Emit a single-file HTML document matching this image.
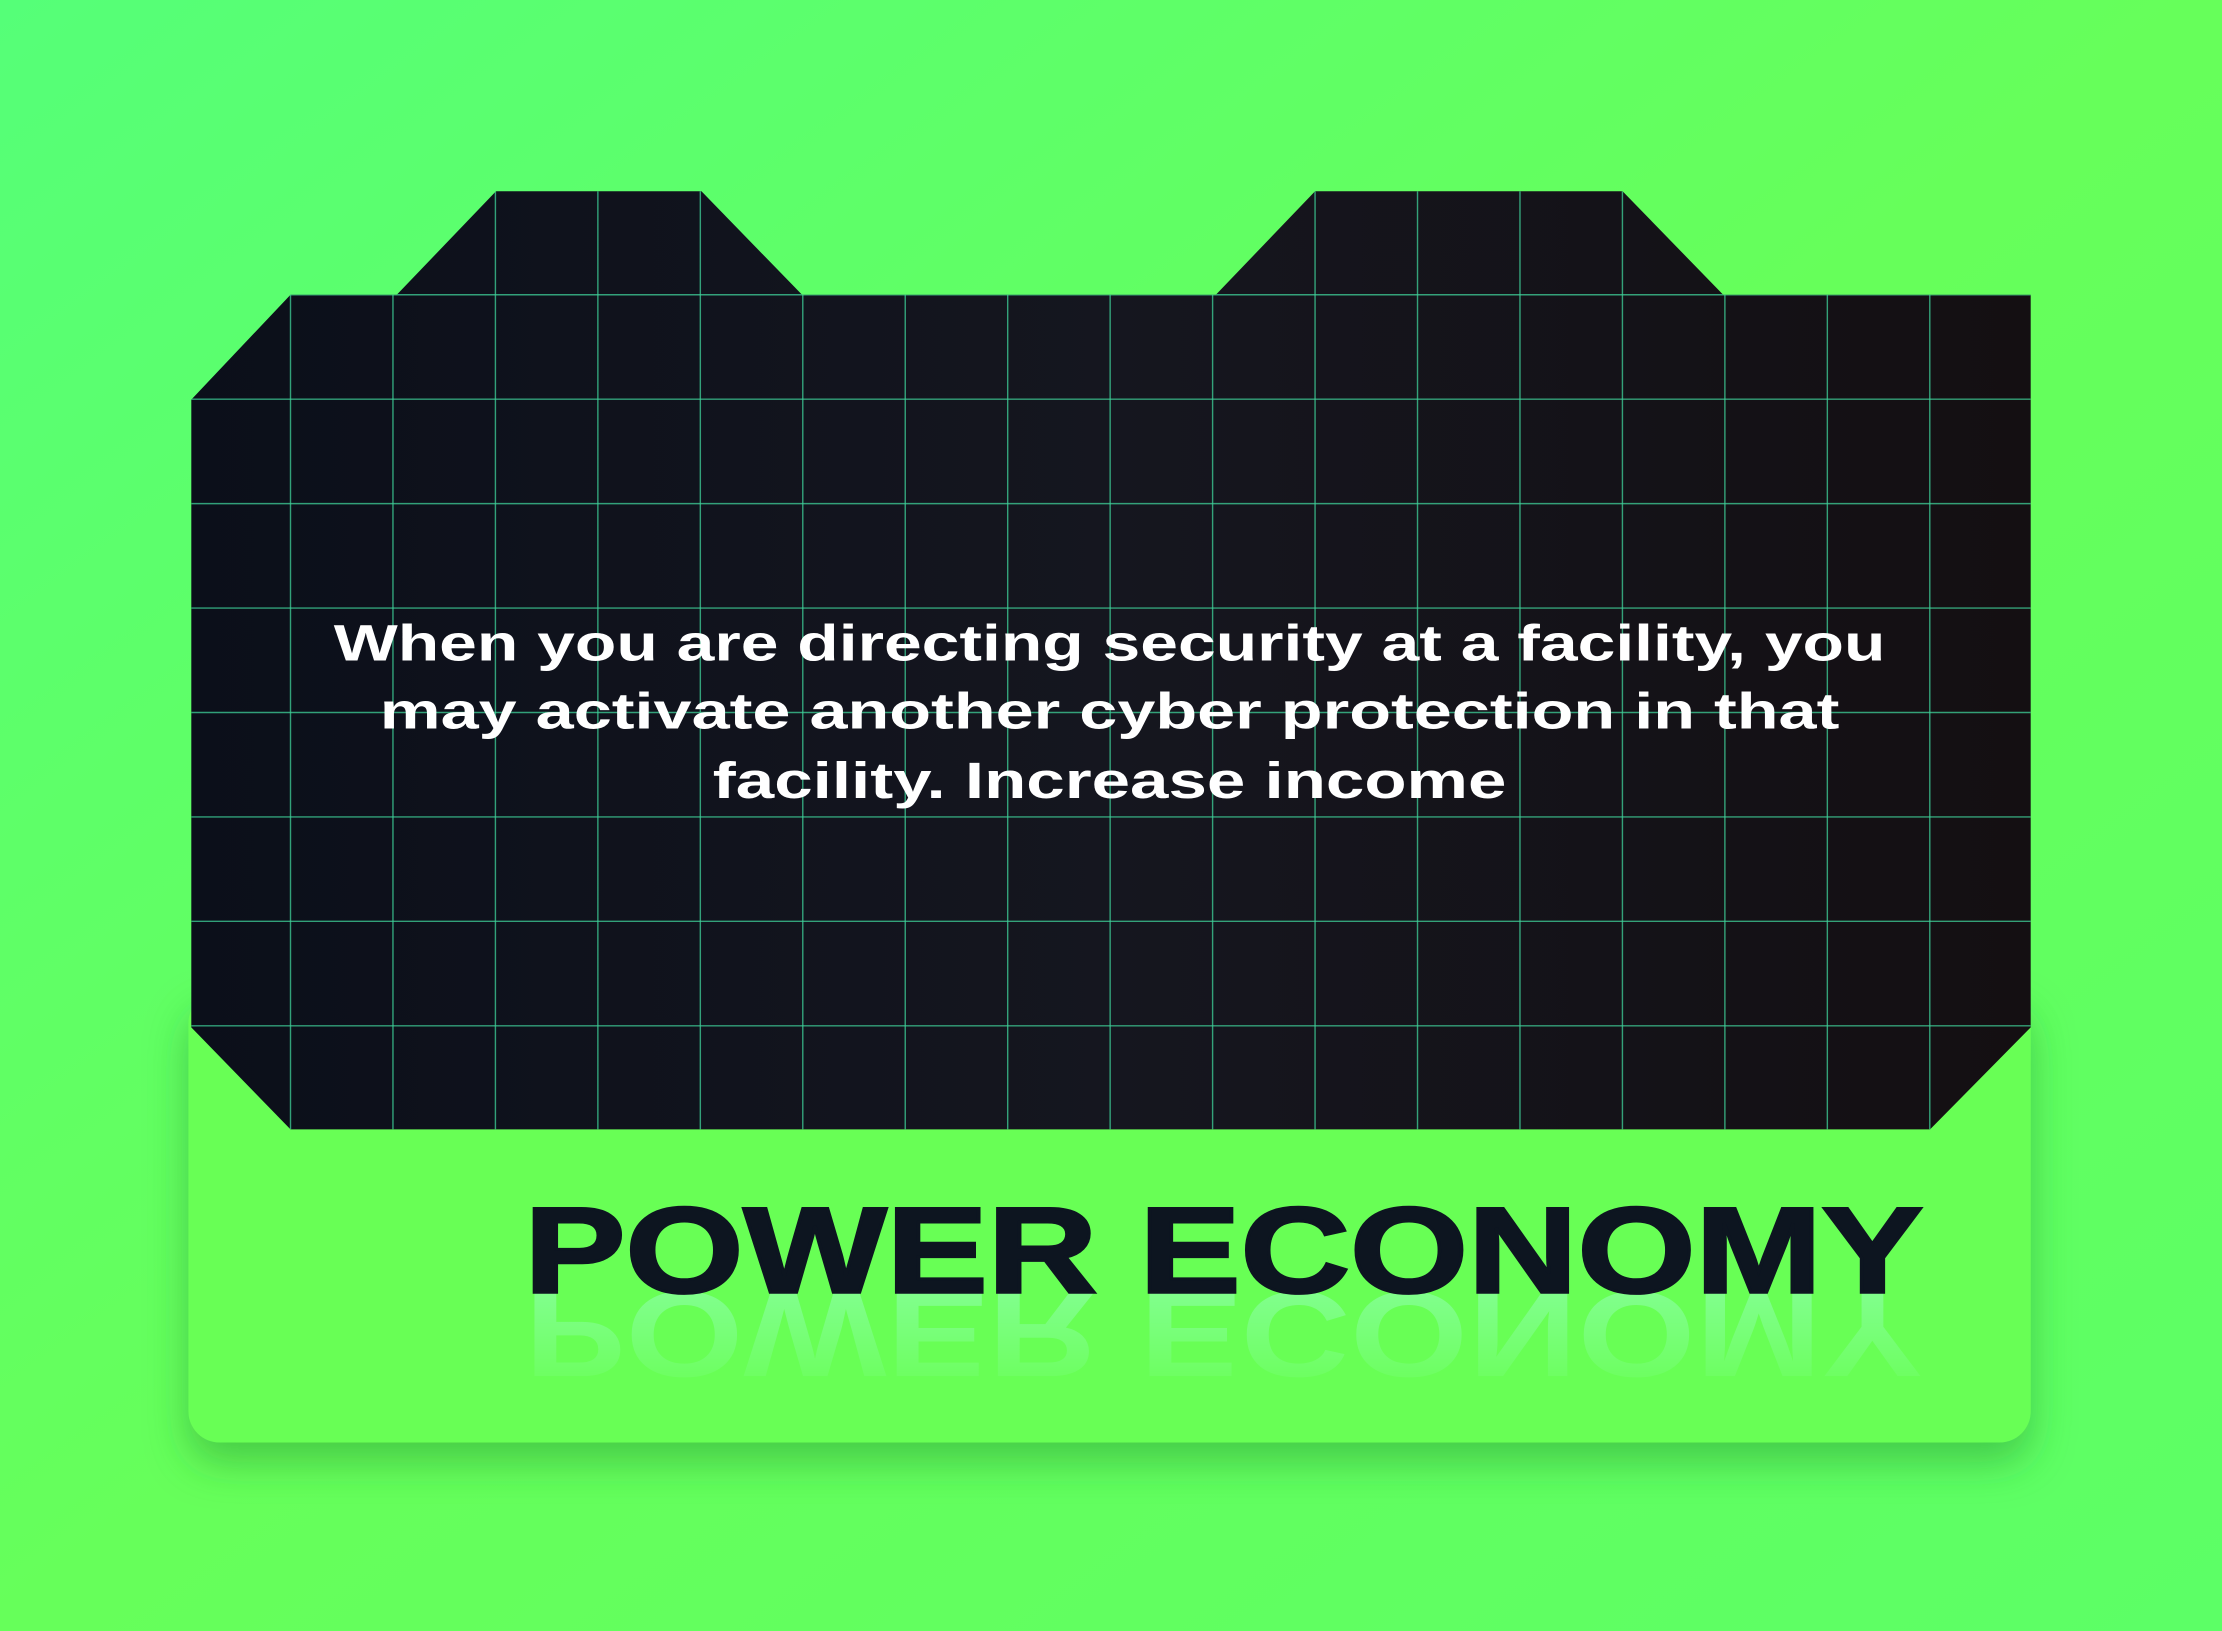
<!DOCTYPE html>
<html><head><meta charset="utf-8"><style>
html,body{margin:0;padding:0;width:2222px;height:1631px;overflow:hidden;background:#62ff5c}
svg{display:block;position:absolute;left:0;top:0}
</style></head><body>
<svg width="2222" height="1631" viewBox="0 0 1568 1151" preserveAspectRatio="none" xmlns="http://www.w3.org/2000/svg">
<defs>
<linearGradient id="bg" x1="0" y1="0" x2="1" y2="1">
<stop offset="0" stop-color="#55ff78"/><stop offset="0.5" stop-color="#66ff5a"/><stop offset="1" stop-color="#5cff66"/>
</linearGradient>
<linearGradient id="panel" x1="0" y1="0" x2="1" y2="0">
<stop offset="0" stop-color="#0b0f1a"/><stop offset="0.5" stop-color="#15161f"/><stop offset="1" stop-color="#140f12"/>
</linearGradient>
<linearGradient id="refl" x1="0" y1="0" x2="0" y2="1">
<stop offset="0" stop-color="#9fffd0" stop-opacity="0"/><stop offset="1" stop-color="#9fffd0" stop-opacity="0.8"/>
</linearGradient>
<filter id="sh" x="-10%" y="-10%" width="120%" height="140%"><feDropShadow dx="0" dy="14" stdDeviation="14" flood-color="#2a9a30" flood-opacity="0.5"/></filter>
<clipPath id="pc"><path d="M280,208 L350,135 L495,135 L566,208 L858,208 L928,135 L1145,135 L1216,208 L1433,208 L1433,725 L1362,797 L205,797 L135,725 L135,282 L205,208 Z"/></clipPath>
</defs>
<rect x="0" y="0" width="1568" height="1151" fill="url(#bg)"/>
<rect x="133" y="700" width="1300" height="318" rx="22" fill="#68ff55" filter="url(#sh)"/>
<path d="M280,208 L350,135 L495,135 L566,208 L858,208 L928,135 L1145,135 L1216,208 L1433,208 L1433,725 L1362,797 L205,797 L135,725 L135,282 L205,208 Z" fill="url(#panel)"/>
<g clip-path="url(#pc)" stroke="#3fd29a" stroke-width="1" stroke-opacity="0.75" id="grid"></g>
<g fill="#ffffff" font-family="'Liberation Sans',sans-serif" font-weight="bold" font-size="36" text-anchor="middle">
<text x="783" y="466" textLength="1095" lengthAdjust="spacingAndGlyphs">When you are directing security at a facility, you</text>
<text x="783" y="514" textLength="1030" lengthAdjust="spacingAndGlyphs">may activate another cyber protection in that</text>
<text x="783" y="563" textLength="560" lengthAdjust="spacingAndGlyphs">facility. Increase income</text>
</g>
<text x="370" y="912" transform="translate(0,1824) scale(1,-1)" font-family="'Liberation Sans',sans-serif" font-weight="bold" font-size="86" fill="url(#refl)" opacity="0.7" textLength="987" lengthAdjust="spacingAndGlyphs">POWER ECONOMY</text>
<text x="370" y="912" font-family="'Liberation Sans',sans-serif" font-weight="bold" font-size="86" fill="#0d1520" stroke="#0d1520" stroke-width="2" textLength="987" lengthAdjust="spacingAndGlyphs">POWER ECONOMY</text>
</svg>
<script>
var g=document.getElementById('grid');
var ns='http://www.w3.org/2000/svg';
for(var i=0;i<18;i++){var x=205+i*72.3;var l=document.createElementNS(ns,'line');


l.setAttribute('x1',x);l.setAttribute('x2',x);l.setAttribute('y1',130);l.setAttribute('y2',800);g.appendChild(l);}
for(var j=0;j<8;j++){var y=208+j*73.7;var m=document.createElementNS(ns,'line');


m.setAttribute('x1',130);m.setAttribute('x2',1440);m.setAttribute('y1',y);m.setAttribute('y2',y);g.appendChild(m);}
</script>
</body></html>
